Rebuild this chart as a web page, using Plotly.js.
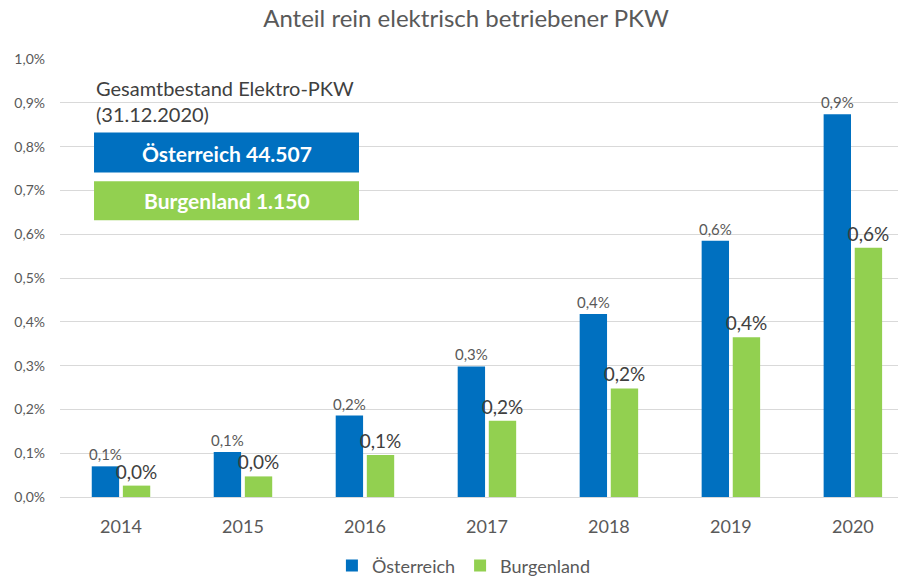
<!DOCTYPE html>
<html>
<head>
<meta charset="utf-8">
<script src="https://cdn.plot.ly/plotly-3.0.1.min.js"></script>
<style>html,body{margin:0;padding:0;background:#fff;}#chart{width:902px;height:578px;}</style>
</head>
<body>
<div id="chart"></div>
<script>
const years = ['2014','2015','2016','2017','2018','2019','2020'];
const oesterreich = [0.070, 0.103, 0.186, 0.298, 0.418, 0.585, 0.874];
const burgenland = [0.026, 0.047, 0.096, 0.174, 0.248, 0.365, 0.569];
const seriesNames = ['Österreich', 'Burgenland'];
const titleText = 'Anteil rein elektrisch betriebener PKW';
const noteText = 'Gesamtbestand Elektro-PKW<br>(31.12.2020)';
const boxTexts = ['Österreich 44.507', 'Burgenland 1.150'];
const yTicks = [0,0.1,0.2,0.3,0.4,0.5,0.6,0.7,0.8,0.9,1.0];
const yTickText = yTicks.map(v => v.toFixed(1).replace('.', ',') + '%');

const FONT = 'Lato, "Open Sans", sans-serif';
const BLUE = '#0070c0', GREEN = '#92d050';

const traces = [
  {type:'bar', name:seriesNames[0], x:years, y:oesterreich,
   marker:{color:BLUE}, texttemplate:'%{y:.1f}%', textposition:'outside', constraintext:'none',
   textfont:{family:FONT, size:15, color:'#595959'}, cliponaxis:false, hoverinfo:'skip'},
  {type:'bar', name:seriesNames[1], x:years, y:burgenland,
   marker:{color:GREEN}, texttemplate:'%{y:.1f}%', textposition:'outside', constraintext:'none',
   textfont:{family:FONT, size:19, color:'#404040'}, cliponaxis:false, hoverinfo:'skip'}
];

const layout = {
  width:902, height:578,
  margin:{l:60, r:4, t:59, b:81},
  separators:',.',
  paper_bgcolor:'#fff', plot_bgcolor:'#fff',
  font:{family:FONT, color:'#595959'},
  title:{text:titleText, x:0.4845, xref:'paper', xanchor:'center', y:0.968, yanchor:'middle',
         font:{family:FONT, size:24, color:'#595959'}},
  barmode:'group', bargap:0.49, bargroupgap:0.12,
  xaxis:{type:'category', range:[-0.5, 6.37], showgrid:false, zeroline:false, showline:false,
         automargin:false,
         ticks:'', tickfont:{family:FONT, size:18, color:'#595959'}, ticklabelstandoff:17},
  yaxis:{range:[0, 1.0], tickmode:'array', tickvals:yTicks, ticktext:yTickText, automargin:false,
         showgrid:true, gridcolor:'#d9d9d9', gridwidth:1, zeroline:true, zerolinecolor:'#d9d9d9',
         zerolinewidth:1, showline:false, ticks:'', tickfont:{family:FONT, size:14, color:'#595959'},
         ticklabelstandoff:14, fixedrange:true},
  showlegend:true,
  legend:{orientation:'h', x:0.482, xanchor:'center', yref:'container', y:0.021, yanchor:'middle',
          font:{family:FONT, size:18, color:'#595959'}, traceorder:'normal'},
  shapes:[
    {type:'rect', xref:'paper', yref:'y', x0:0.0406, x1:0.3568, y0:0.741, y1:0.832,
     fillcolor:BLUE, line:{width:0}, layer:'above'},
    {type:'rect', xref:'paper', yref:'y', x0:0.0406, x1:0.3568, y0:0.632, y1:0.721,
     fillcolor:GREEN, line:{width:0}, layer:'above'}
  ],
  annotations:[
    {xref:'paper', yref:'y', x:0.0406, y:0.966, xanchor:'left', yanchor:'top', align:'left',
     text:noteText, showarrow:false, font:{family:FONT, size:20, color:'#404040'}},
    {xref:'paper', yref:'y', x:0.1987, y:0.7845, xanchor:'center', yanchor:'middle',
     text:'<b>'+boxTexts[0]+'</b>', showarrow:false, font:{family:FONT, size:21, color:'#ffffff'}},
    {xref:'paper', yref:'y', x:0.1987, y:0.676, xanchor:'center', yanchor:'middle',
     text:'<b>'+boxTexts[1]+'</b>', showarrow:false, font:{family:FONT, size:21, color:'#ffffff'}}
  ]
};

Plotly.newPlot('chart', traces, layout, {displayModeBar:false, staticPlot:true});
</script>
</body>
</html>
